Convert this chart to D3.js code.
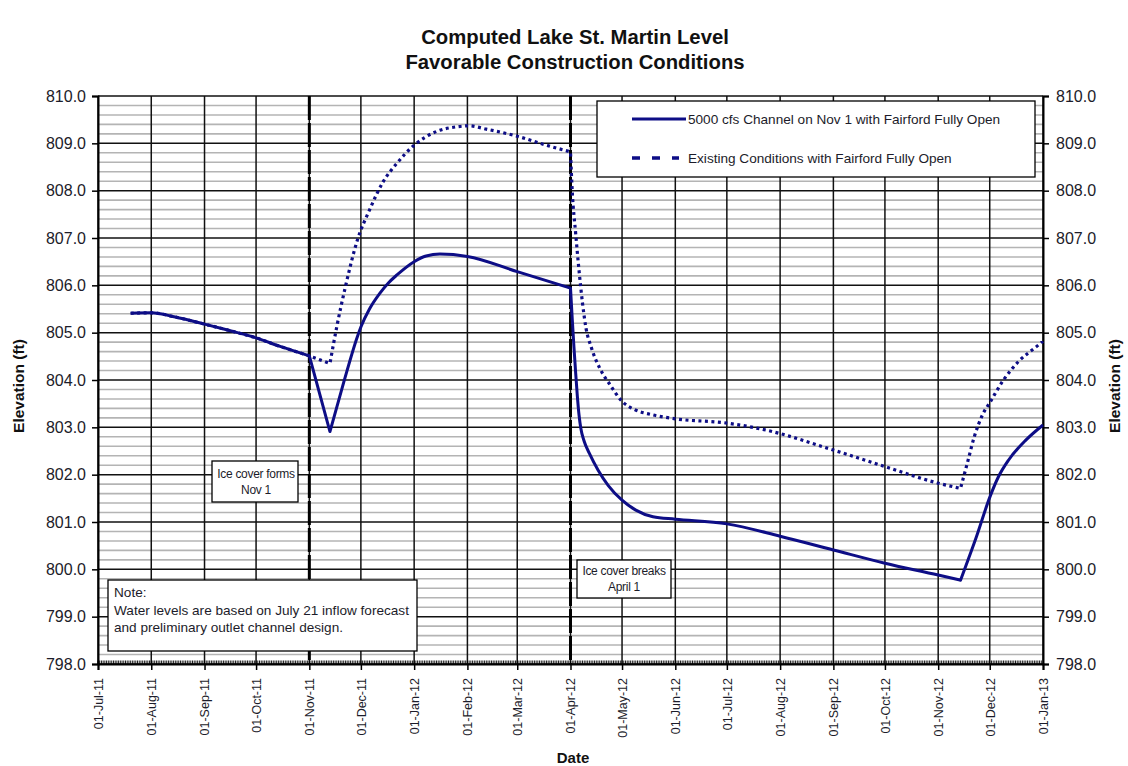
<!DOCTYPE html>
<html><head><meta charset="utf-8">
<script src="https://cdn.jsdelivr.net/npm/d3@7"></script>
<style>body{margin:0;background:#fff;} svg{display:block;font-family:"Liberation Sans",Arial,sans-serif;}</style>
</head><body>
<svg id="c" width="1128" height="766"></svg>
<script>
// ---- data ----
const titleLines = ["Computed Lake St. Martin Level", "Favorable Construction Conditions"];
const seriesNames = ["5000 cfs Channel on Nov 1 with Fairford Fully Open", "Existing Conditions with Fairford Fully Open"];
const yTicks = [798, 799, 800, 801, 802, 803, 804, 805, 806, 807, 808, 809, 810];
const monthTicks = ["2011-07-01","2011-08-01","2011-09-01","2011-10-01","2011-11-01","2011-12-01","2012-01-01","2012-02-01","2012-03-01","2012-04-01","2012-05-01","2012-06-01","2012-07-01","2012-08-01","2012-09-01","2012-10-01","2012-11-01","2012-12-01","2013-01-01"];

const channelDates = ["2011-07-20","2011-08-01","2011-08-15","2011-09-01","2011-09-15","2011-10-01","2011-10-15","2011-11-01","2011-11-13","2011-11-21","2011-11-29","2011-12-01","2011-12-06","2011-12-12","2011-12-17","2011-12-22","2012-01-01","2012-01-08","2012-01-16","2012-02-01","2012-03-01","2012-04-01","2012-04-02","2012-04-03","2012-04-04","2012-04-05","2012-04-06","2012-04-07","2012-04-09","2012-04-12","2012-04-17","2012-04-23","2012-05-01","2012-05-09","2012-05-19","2012-06-01","2012-07-01","2012-08-01","2012-09-01","2012-10-01","2012-11-01","2012-11-14","2012-11-23","2012-12-01","2012-12-06","2012-12-12","2012-12-22","2013-01-01"];
const channelValues = [805.41,805.42,805.33,805.18,805.05,804.89,804.71,804.51,802.91,803.95,804.92,805.12,805.50,805.83,806.05,806.22,806.50,806.62,806.66,806.61,806.29,805.94,805.30,804.70,804.15,803.65,803.25,802.98,802.70,802.45,802.10,801.77,801.46,801.25,801.11,801.06,800.96,800.70,800.41,800.13,799.88,799.77,800.66,801.52,801.95,802.31,802.73,803.05];

const existingDates = ["2011-07-20","2011-08-01","2011-08-15","2011-09-01","2011-09-15","2011-10-01","2011-10-15","2011-11-01","2011-11-13","2011-11-17","2011-11-22","2011-11-29","2011-12-06","2011-12-14","2011-12-22","2012-01-01","2012-01-14","2012-01-26","2012-02-02","2012-02-12","2012-03-01","2012-03-18","2012-04-01","2012-04-02","2012-04-04","2012-04-06","2012-04-08","2012-04-10","2012-04-13","2012-04-18","2012-04-24","2012-05-01","2012-05-08","2012-05-18","2012-06-01","2012-07-01","2012-07-24","2012-09-01","2012-10-01","2012-11-01","2012-11-14","2012-11-18","2012-11-22","2012-11-27","2012-12-01","2012-12-09","2012-12-18","2012-12-28","2013-01-01"];
const existingValues = [805.41,805.42,805.33,805.18,805.05,804.89,804.71,804.51,804.35,805.13,805.97,806.96,807.59,808.19,808.58,808.96,809.25,809.35,809.37,809.30,809.15,808.96,808.82,808.00,807.10,806.30,805.62,805.10,804.70,804.25,803.90,803.55,803.38,803.27,803.18,803.09,802.94,802.52,802.17,801.82,801.71,802.25,802.80,803.28,803.52,804.00,804.40,804.70,804.82];

// dates where the computed series change regime (sharp corners)
const cornerDates = ["2011-11-01","2011-11-13","2012-04-01","2012-11-14"];
const markerDates = ["2011-11-01","2012-04-01"];
const annotationForms = ["Ice cover forms","Nov 1"];
const annotationBreaks = ["Ice cover breaks","April 1"];
const noteLines = ["Note:","Water levels are based on July 21 inflow forecast","and preliminary outlet channel design."];

// ---- drawing ----
const parse = d3.timeParse("%Y-%m-%d");
const svg = d3.select("#c");
const m = {l:98, r:1043, t:96, b:664};
const x = d3.scaleTime().domain([parse("2011-07-01"), parse("2013-01-01")]).range([m.l, m.r]);
const y = d3.scaleLinear().domain([798, 810]).range([m.b, m.t]);
const navy = "#0d0d86";
const txt = "#1c1c2a";

// minor horizontal grid
const minor = d3.range(798, 810.001, 0.2).filter(v => Math.abs(v - Math.round(v)) > 0.01);
svg.append("g").selectAll("line").data(minor).join("line")
  .attr("x1", m.l).attr("x2", m.r).attr("y1", d => y(d)).attr("y2", d => y(d))
  .attr("stroke", "#b4b4b4").attr("stroke-width", 1.6);
// major horizontal grid
svg.append("g").selectAll("line").data(yTicks).join("line")
  .attr("x1", m.l).attr("x2", m.r).attr("y1", d => y(d)).attr("y2", d => y(d))
  .attr("stroke", "#111").attr("stroke-width", 1.5);
// vertical month grid
const months = monthTicks.map(parse);
svg.append("g").selectAll("line").data(months).join("line")
  .attr("x1", d => x(d)).attr("x2", d => x(d)).attr("y1", m.t).attr("y2", m.b)
  .attr("stroke", "#111").attr("stroke-width", 1.5);

// left/right axes
const yl = svg.append("g").attr("transform", `translate(${m.l},0)`)
  .call(d3.axisLeft(y).tickValues(yTicks).tickFormat(d3.format(".1f")).tickSize(6).tickPadding(6));
const yr = svg.append("g").attr("transform", `translate(${m.r},0)`)
  .call(d3.axisRight(y).tickValues(yTicks).tickFormat(d3.format(".1f")).tickSize(6).tickPadding(7));
[yl, yr].forEach(g => {
  g.select(".domain").attr("stroke", "#000").attr("stroke-width", 2);
  g.selectAll(".tick line").attr("stroke", "#000").attr("stroke-width", 1.5);
  g.selectAll("text").attr("font-size", 16).attr("fill", txt).attr("font-family", "Liberation Sans, Arial");
});

// bottom axis: daily minor ticks
const days = d3.timeDay.range(parse("2011-07-01"), parse("2013-01-01"));
svg.append("g").selectAll("line").data(days).join("line")
  .attr("x1", d => x(d)).attr("x2", d => x(d)).attr("y1", m.b - 3.5).attr("y2", m.b + 1)
  .attr("stroke", "#000").attr("stroke-width", 0.9);
const xb = svg.append("g").attr("transform", `translate(0,${m.b})`)
  .call(d3.axisBottom(x).tickValues(months).tickFormat(d3.timeFormat("%d-%b-%y")).tickSize(6).tickPadding(4));
xb.select(".domain").attr("stroke", "#000").attr("stroke-width", 2);
xb.selectAll(".tick line").attr("stroke", "#000").attr("stroke-width", 1.5);
xb.selectAll("text").attr("font-size", 12.5).attr("fill", txt).attr("font-family", "Liberation Sans, Arial")
  .attr("transform", "rotate(-90)").attr("text-anchor", "end").attr("dy", "0.35em").attr("x", -14).attr("y", 0);

// event marker lines
svg.append("g").selectAll("line").data(markerDates.map(parse)).join("line")
  .attr("x1", d => x(d)).attr("x2", d => x(d)).attr("y1", m.t).attr("y2", m.b)
  .attr("stroke", "#000").attr("stroke-width", 3).attr("stroke-dasharray", "24,3");

// series: smooth (monotone) between corner dates, sharp at the corners
const lineGen = d3.line().x(d => x(d[0])).y(d => y(d[1])).curve(d3.curveMonotoneX);
const corners = new Set(cornerDates);
function pathFor(dates, values) {
  const segs = [];
  let cur = [];
  dates.forEach((d, i) => {
    cur.push([parse(d), values[i]]);
    if (corners.has(d) && i > 0 && i < dates.length - 1) { segs.push(cur); cur = [[parse(d), values[i]]]; }
  });
  if (cur.length > 1) segs.push(cur);
  return segs.map((s, k) => { const p = lineGen(s); return k === 0 ? p : "L" + p.slice(1); }).join("");
}
svg.append("path").attr("d", pathFor(existingDates, existingValues)).attr("fill", "none")
  .attr("stroke", navy).attr("stroke-width", 3.2).attr("stroke-dasharray", "3,3.5");
svg.append("path").attr("d", pathFor(channelDates, channelValues)).attr("fill", "none")
  .attr("stroke", navy).attr("stroke-width", 3).attr("stroke-linejoin", "round");

// boxes
function box(bx, by, w, h) {
  svg.append("rect").attr("x", bx).attr("y", by).attr("width", w).attr("height", h)
    .attr("fill", "#fff").attr("stroke", "#000").attr("stroke-width", 1.3);
}
box(212, 461, 86, 41);
annotationForms.forEach((t, i) => svg.append("text").attr("x", 256).attr("y", 478 + i * 16)
  .attr("text-anchor", "middle").attr("font-size", 12).attr("letter-spacing", -0.3).attr("fill", txt).text(t));
box(577, 560, 94, 38);
annotationBreaks.forEach((t, i) => svg.append("text").attr("x", 624).attr("y", 574.5 + i * 16.5)
  .attr("text-anchor", "middle").attr("font-size", 12).attr("letter-spacing", -0.3).attr("fill", txt).text(t));
// note
box(108, 580, 309, 71);
noteLines.forEach((t, i) => svg.append("text").attr("x", 114).attr("y", 597 + i * 17.5)
  .attr("font-size", 13.6).attr("fill", txt).text(t));

// legend
box(597, 101, 438, 76);
svg.append("line").attr("x1", 632).attr("x2", 686).attr("y1", 119).attr("y2", 119)
  .attr("stroke", navy).attr("stroke-width", 3);
svg.append("line").attr("x1", 632).attr("x2", 679).attr("y1", 158).attr("y2", 158)
  .attr("stroke", navy).attr("stroke-width", 3.4).attr("stroke-dasharray", "8,12");
svg.append("text").attr("x", 688).attr("y", 124).attr("font-size", 13.6).attr("fill", txt).text(seriesNames[0]);
svg.append("text").attr("x", 688).attr("y", 163).attr("font-size", 13.6).attr("fill", txt).text(seriesNames[1]);

// titles
titleLines.forEach((t, i) => svg.append("text").attr("x", 575).attr("y", 44 + i * 25)
  .attr("text-anchor", "middle").attr("font-size", 20.3).attr("font-weight", "bold").attr("fill", "#111").text(t));
svg.append("text").attr("transform", "translate(24,386) rotate(-90)").attr("text-anchor", "middle")
  .attr("font-size", 15.5).attr("font-weight", "bold").attr("fill", "#111").text("Elevation (ft)");
svg.append("text").attr("transform", "translate(1120,386) rotate(-90)").attr("text-anchor", "middle")
  .attr("font-size", 15.5).attr("font-weight", "bold").attr("fill", "#111").text("Elevation (ft)");
svg.append("text").attr("x", 573).attr("y", 763).attr("text-anchor", "middle")
  .attr("font-size", 15).attr("font-weight", "bold").attr("fill", "#111").text("Date");
</script>
</body></html>
